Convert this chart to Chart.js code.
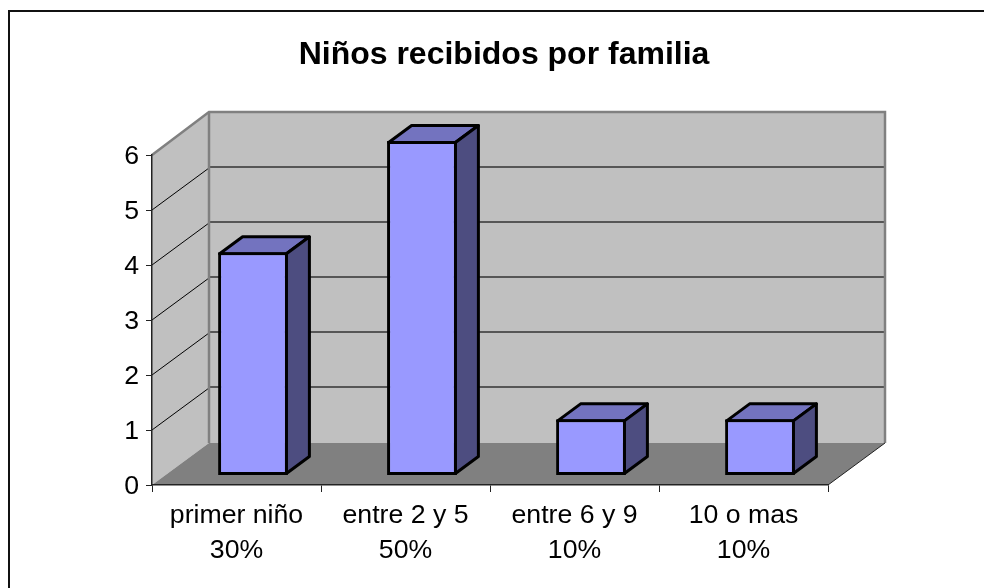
<!DOCTYPE html>
<html><head><meta charset="utf-8">
<style>html,body{margin:0;padding:0;background:#fff}canvas{display:block}</style>
<script src="https://cdn.jsdelivr.net/npm/chart.js@4"></script>
</head><body>
<div style="width:984px;height:588px;position:relative"><canvas id="c" width="984" height="588"></canvas></div>
<script>
const chartTitle = 'Niños recibidos por familia';
const categories = [['primer niño','30%'],['entre 2 y 5','50%'],['entre 6 y 9','10%'],['10 o mas','10%']];
const seriesValues = [4, 6, 1, 1];
const yTicks = [0,1,2,3,4,5,6];

const WALL = {dx:57, dy:-42};
const BAR = {dx:16.5, dy:-10, depthX:23, depthY:-17};
const FONT = '"Liberation Sans", Arial, sans-serif';

const scene = {
  id:'scene',
  afterLayout(chart){
    const t = chart.titleBlock;
    const w = t.right - t.left;
    t.left = 504 - w/2; t.right = 504 + w/2;
  },
  beforeDraw(chart){
    const {ctx, chartArea:a, scales:{x,y}} = chart;
    const y0 = y.getPixelForValue(0), y6 = y.getPixelForValue(6);
    const dx = WALL.dx, dy = WALL.dy;
    ctx.save();
    // frame
    ctx.fillStyle='#fff'; ctx.fillRect(0,0,chart.width,chart.height);
    ctx.strokeStyle='#111'; ctx.lineWidth=2;
    ctx.beginPath(); ctx.moveTo(9,chart.height); ctx.lineTo(9,11); ctx.lineTo(chart.width,11); ctx.stroke();
    // back + side wall
    ctx.fillStyle='#C0C0C0';
    ctx.fillRect(a.left+dx,y6+dy,a.right-a.left,y0-y6);
    ctx.beginPath(); ctx.moveTo(a.left,y0); ctx.lineTo(a.left,y6); ctx.lineTo(a.left+dx,y6+dy); ctx.lineTo(a.left+dx,y0+dy); ctx.closePath(); ctx.fill();
    // floor
    ctx.fillStyle='#808080';
    ctx.beginPath(); ctx.moveTo(a.left,y0); ctx.lineTo(a.right,y0); ctx.lineTo(a.right+dx,y0+dy); ctx.lineTo(a.left+dx,y0+dy); ctx.closePath(); ctx.fill();
    // grid
    yTicks.forEach(v=>{
      if(v===0||v===6) return;
      const p=y.getPixelForValue(v);
      ctx.strokeStyle='#000'; ctx.lineWidth=1;
      ctx.beginPath(); ctx.moveTo(a.left,p); ctx.lineTo(a.left+dx,p+dy); ctx.stroke();
      ctx.strokeStyle='#333'; ctx.lineWidth=1.3;
      ctx.beginPath(); ctx.moveTo(a.left+dx,p+dy-1); ctx.lineTo(a.right+dx,p+dy-1); ctx.stroke();
    });
    // wall outlines
    ctx.strokeStyle='#808080'; ctx.lineWidth=2.5;
    ctx.beginPath(); ctx.moveTo(a.left,y6); ctx.lineTo(a.left+dx,y6+dy-1); ctx.lineTo(a.right+dx,y6+dy-1); ctx.lineTo(a.right+dx,y0+dy); ctx.stroke();
    ctx.beginPath(); ctx.moveTo(a.left+dx,y6+dy); ctx.lineTo(a.left+dx,y0+dy); ctx.stroke();
    // floor front-right edge
    ctx.strokeStyle='#222'; ctx.lineWidth=1;
    ctx.beginPath(); ctx.moveTo(a.right,y0); ctx.lineTo(a.right+dx,y0+dy); ctx.stroke();
    ctx.restore();
  },
  beforeDatasetDraw(chart,args){
    const {ctx}=chart;
    ctx.save();
    ctx.translate(BAR.dx,BAR.dy);
    ctx.lineJoin='round'; ctx.lineWidth=3; ctx.strokeStyle='#000';
    const ins=1.5;
    chart.getDatasetMeta(args.index).data.forEach(b=>{
      const l=b.x-b.width/2+ins, r=b.x+b.width/2-ins, t=b.y+ins, bt=b.base-ins;
      const X=BAR.depthX, Y=BAR.depthY;
      ctx.fillStyle='#7373BF';
      ctx.beginPath(); ctx.moveTo(l,t); ctx.lineTo(l+X,t+Y); ctx.lineTo(r+X,t+Y); ctx.lineTo(r,t); ctx.closePath(); ctx.fill(); ctx.stroke();
      ctx.fillStyle='#4D4D80';
      ctx.beginPath(); ctx.moveTo(r,t); ctx.lineTo(r+X,t+Y); ctx.lineTo(r+X,bt+Y); ctx.lineTo(r,bt); ctx.closePath(); ctx.fill(); ctx.stroke();
    });
  },
  afterDatasetDraw(chart){ chart.ctx.restore(); }
};

new Chart(document.getElementById('c'),{
  type:'bar',
  data:{labels:categories,datasets:[{
    data:seriesValues, yAxisID:'yBar', clip:false,
    backgroundColor:'#9999FF', borderColor:'#000', borderWidth:3, borderSkipped:false,
    categoryPercentage:1, barPercentage:0.413
  }]},
  plugins:[scene],
  options:{
    responsive:false, animation:false,
    layout:{padding:{left:100,right:156,top:0,bottom:0}},
    plugins:{
      legend:{display:false}, tooltip:{enabled:false},
      title:{display:true,text:chartTitle,color:'#000',font:{family:FONT,size:32,weight:'bold'},padding:{top:36,bottom:80.6}}
    },
    scales:{
      x:{
        position:'bottom', offset:true,
        grid:{drawOnChartArea:false,drawTicks:true,tickLength:7,color:'#222',lineWidth:1},
        border:{color:'#222',width:1.5},
        ticks:{color:'#000',maxRotation:0,autoSkip:false,padding:6,font:{family:FONT,size:26.67,lineHeight:1.31}},
        afterFit(s){ s.height=103; }
      },
      y:{
        position:'left', min:0, max:6,
        grid:{drawOnChartArea:false,drawTicks:true,tickLength:6,color:'#222',lineWidth:1},
        border:{color:'#222',width:1.5},
        ticks:{color:'#000',stepSize:1,padding:7,labelOffset:2,font:{family:FONT,size:26.67},callback:(v)=>yTicks.includes(v)?String(v):''},
        afterFit(s){ s.width=52; }
      },
      yBar:{display:false,min:0,max:5.928}
    }
  }
});
</script>
</body></html>
